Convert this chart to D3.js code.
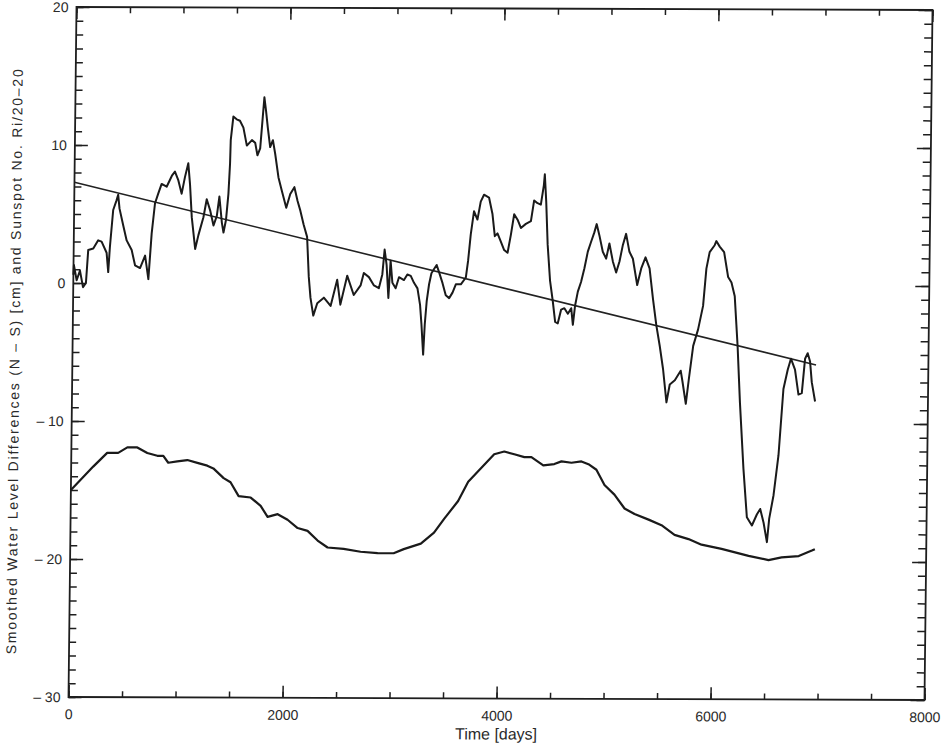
<!DOCTYPE html>
<html>
<head>
<meta charset="utf-8">
<script src="https://cdn.jsdelivr.net/npm/d3@7/dist/d3.min.js"></script>
<style>
	body { margin: 0; background: #fff; }
	svg { display: block; }
	.axis text { font-family: 'Liberation Sans', Arial, sans-serif; font-size: 14px; fill: #2a2a2a; }
	.axis line { stroke: #1e1e1e; stroke-width: 1.5; }
	.axis path { display: none; }
</style>
</head>
<body>
<script>

//* water level differences N - S, smoothed [cm]
var waterDays = [0, 4, 31, 61, 91, 118, 136, 183, 228, 260, 308, 325, 338, 365, 395, 410, 424, 460, 494, 542, 575, 622, 668, 701, 727, 755, 784, 815, 862, 910, 938, 969, 1003, 1032, 1062, 1080, 1100, 1135, 1164, 1209, 1238, 1271, 1304, 1334, 1356, 1382, 1398, 1420, 1440, 1452, 1456, 1478, 1509, 1540, 1573, 1607, 1654, 1685, 1707, 1732, 1753, 1766, 1783, 1801, 1825, 1850, 1873, 1906, 1940, 1982, 2018, 2056, 2087, 2114, 2146, 2180, 2200, 2218, 2246, 2282, 2343, 2407, 2466, 2498, 2559, 2622, 2685, 2714, 2762, 2810, 2856, 2887, 2906, 2926, 2946, 2963, 2982, 3013, 3043, 3090, 3121, 3153, 3184, 3217, 3243, 3258, 3277, 3289, 3305, 3325, 3346, 3370, 3394, 3416, 3450, 3482, 3514, 3545, 3575, 3622, 3668, 3687, 3709, 3737, 3770, 3799, 3829, 3876, 3910, 3934, 3959, 3991, 4023, 4055, 4084, 4113, 4145, 4177, 4223, 4270, 4298, 4330, 4361, 4387, 4395, 4411, 4429, 4455, 4483, 4507, 4532, 4562, 4592, 4625, 4656, 4673, 4692, 4716, 4745, 4775, 4805, 4834, 4864, 4885, 4911, 4945, 4977, 5006, 5040, 5072, 5102, 5132, 5161, 5194, 5227, 5270, 5306, 5345, 5384, 5419, 5453, 5487, 5521, 5556, 5585, 5632, 5686, 5704, 5737, 5763, 5800, 5844, 5888, 5915, 5944, 5990, 6005, 6037, 6079, 6119, 6151, 6183, 6215, 6243, 6283, 6320, 6368, 6413, 6444, 6477, 6510, 6529, 6567, 6609, 6648, 6686, 6715, 6754, 6789, 6820, 6847, 6871, 6894, 6912, 6945];
var waterDiff = [0.6, 1.3, 0.2, 0.9, -0.3, 0, 2.4, 2.5, 3.1, 3.0, 2.2, 0.8, 2.6, 5.3, 6.0, 6.4, 5.4, 4.2, 3.1, 2.4, 1.3, 1.1, 2.0, 0.3, 3.6, 5.8, 6.5, 7.2, 7.0, 7.8, 8.1, 7.5, 6.5, 7.7, 8.7, 7.2, 4.8, 2.5, 3.5, 4.8, 6.1, 5.3, 4.2, 4.9, 6.3, 4.4, 3.7, 4.6, 6.5, 8.7, 10.4, 12.1, 11.9, 11.8, 11.3, 10.0, 10.4, 10.2, 9.3, 9.8, 12.1, 13.5, 12.5, 11.3, 9.9, 10.4, 9.4, 7.7, 6.7, 5.5, 6.5, 7.0, 6.0, 5.3, 4.3, 3.4, 0.5, -1.0, -2.3, -1.4, -1.0, -1.6, 0.3, -1.5, 0.6, -0.8, -0.1, 0.8, 0.5, -0.1, -0.3, 0.7, 2.5, 1.4, -1.0, 1.7, 0.1, -0.3, 0.5, 0.3, 0.7, 0.6, 0.1, -0.3, -1.5, -2.9, -5.1, -2.9, -1.2, 0, 0.8, 1.1, 1.4, 0.9, 0.1, -0.8, -1.0, -0.6, 0, 0, 0.5, 1.7, 3.6, 5.3, 4.7, 6.0, 6.5, 6.3, 5.1, 3.5, 3.7, 3.1, 2.5, 2.3, 3.6, 5.1, 4.7, 4.1, 4.4, 4.6, 6.1, 5.9, 5.8, 7.2, 8.0, 6.0, 2.9, 0.3, -1.2, -2.7, -2.8, -1.8, -1.7, -2.1, -1.7, -2.9, -1.5, -0.5, 0.2, 1.2, 2.4, 3.1, 3.8, 4.4, 3.6, 2.4, 1.9, 3.0, 1.7, 0.9, 1.7, 2.9, 3.7, 2.4, 1.9, 0, 1.2, 2.0, 1.2, -1.0, -2.9, -4.4, -6.1, -8.5, -7.2, -6.9, -6.2, -7.0, -8.6, -6.8, -4.4, -3.2, -1.5, 1.2, 2.4, 2.9, 3.2, 2.8, 2.4, 0.6, 0.2, -0.8, -4.4, -8.5, -13.3, -16.8, -17.4, -16.6, -16.2, -17.2, -18.6, -16.9, -15.2, -12.3, -7.5, -6.1, -5.3, -6.1, -7.9, -7.8, -5.3, -4.9, -5.5, -7.0, -8.4];

//* sunspot number Ri/20 - 20
var sunDays = [0, 206, 335, 438, 523, 616, 710, 804, 860, 907, 991, 1085, 1179, 1272, 1329, 1426, 1491, 1568, 1681, 1775, 1841, 1935, 2028, 2123, 2216, 2311, 2405, 2555, 2714, 2873, 3023, 3117, 3276, 3398, 3491, 3620, 3712, 3832, 3952, 4046, 4140, 4234, 4300, 4412, 4515, 4581, 4675, 4768, 4834, 4909, 4986, 5080, 5176, 5270, 5402, 5523, 5646, 5777, 5899, 6087, 6340, 6527, 6649, 6809, 6931, 6959];
var sunspot = [-15.0, -13.3, -12.3, -12.3, -11.9, -11.9, -12.3, -12.5, -12.5, -13.0, -12.9, -12.8, -13.0, -13.2, -13.4, -14.1, -14.4, -15.4, -15.5, -16.1, -16.9, -16.7, -17.1, -17.7, -17.9, -18.6, -19.1, -19.2, -19.4, -19.5, -19.5, -19.2, -18.8, -18.0, -17.0, -15.7, -14.3, -13.3, -12.3, -12.1, -12.3, -12.5, -12.5, -13.1, -13.0, -12.8, -12.9, -12.8, -13.0, -13.4, -14.5, -15.2, -16.2, -16.6, -17.0, -17.4, -18.1, -18.4, -18.8, -19.1, -19.6, -19.9, -19.7, -19.6, -19.2, -19.1];

//* linear trend of the water level differences
var trendDays = [0, 6950];
var trendVals = [7.3, -5.75];

//* axis ticks
var xMajor = [0, 2000, 4000, 6000, 8000];
var xMinor = d3.range(0, 8001, 500);
var yMajor = [-30, -20, -10, 0, 10, 20];
var yMinor = d3.range(-30, 21, 1);

var W = 856, H = 690;

var svg = d3.select('body').append('svg')
	.attr('width', 950)
	.attr('height', 748);

//* the scanned plot is slightly sheared, follow it
var g = svg.append('g')
	.attr('transform', 'matrix(1,0.0035,-0.0116,1,76.5,7)');

var x = d3.scaleLinear().domain([0, 8000]).range([0, W]);
var y = d3.scaleLinear().domain([-30, 20]).range([H, 0]);

var fmt = function(d){ return d < 0 ? '\u2013 ' + Math.abs(d) : String(d); };

//* AXES
g.append('g').attr('class', 'axis')
	.call( d3.axisLeft(y).tickValues(yMajor).tickSize(-13).tickSizeOuter(0).tickPadding(8).tickFormat(fmt) );
g.append('g').attr('class', 'axis')
	.call( d3.axisLeft(y).tickValues(yMinor).tickSize(-7).tickSizeOuter(0).tickFormat('') );
g.append('g').attr('class', 'axis').attr('transform', 'translate(' + W + ',0)')
	.call( d3.axisRight(y).tickValues(yMajor).tickSize(-14).tickSizeOuter(0).tickFormat('') );
g.append('g').attr('class', 'axis').attr('transform', 'translate(' + W + ',0)')
	.call( d3.axisRight(y).tickValues(yMinor).tickSize(-8).tickSizeOuter(0).tickFormat('') );

g.append('g').attr('class', 'axis').attr('transform', 'translate(0,' + H + ')')
	.call( d3.axisBottom(x).tickValues(xMajor).tickSize(-12).tickSizeOuter(0).tickPadding(12).tickFormat(fmt) );
g.append('g').attr('class', 'axis').attr('transform', 'translate(0,' + H + ')')
	.call( d3.axisBottom(x).tickValues(xMinor).tickSize(-6).tickSizeOuter(0).tickFormat('') );
g.append('g').attr('class', 'axis')
	.call( d3.axisTop(x).tickValues(xMajor).tickSize(-12).tickSizeOuter(0).tickFormat('') );
g.append('g').attr('class', 'axis')
	.call( d3.axisTop(x).tickValues(xMinor).tickSize(-6).tickSizeOuter(0).tickFormat('') );

//* FRAME
g.append('rect')
	.attr('width', W)
	.attr('height', H)
	.attr('fill', 'none')
	.attr('stroke', '#1e1e1e')
	.attr('stroke-width', 1.8);

//* LINES
var line = d3.line()
	.x(function(d){ return x(d[0]); })
	.y(function(d){ return y(d[1]); });

g.append('path')
	.attr('d', line( d3.zip(trendDays, trendVals) ))
	.attr('fill', 'none')
	.attr('stroke', '#222')
	.attr('stroke-width', 1.6);

g.append('path')
	.attr('d', line( d3.zip(sunDays, sunspot) ))
	.attr('fill', 'none')
	.attr('stroke', '#1a1a1a')
	.attr('stroke-width', 2.2)
	.attr('stroke-linejoin', 'round');

g.append('path')
	.attr('d', line( d3.zip(waterDays, waterDiff) ))
	.attr('fill', 'none')
	.attr('stroke', '#1a1a1a')
	.attr('stroke-width', 2)
	.attr('stroke-linejoin', 'round');

//* TITLES
g.append('text')
	.attr('x', W / 2)
	.attr('y', H + 41)
	.attr('font-family', "'Liberation Sans', Arial, sans-serif")
	.attr('font-size', 16)
	.style('text-anchor', 'middle')
	.style('fill', '#2a2a2a')
	.text('Time [days]');

g.append('text')
	.attr('transform', 'translate(-53,' + 355 + ') rotate(-90)')
	.attr('font-family', "'Liberation Sans', Arial, sans-serif")
	.attr('font-size', 14)
	.attr('textLength', 585)
	.attr('lengthAdjust', 'spacing')
	.style('text-anchor', 'middle')
	.style('fill', '#2a2a2a')
	.text('Smoothed Water Level Differences (N \u2013 S) [cm] and Sunspot No. Ri/20\u201320');

</script>
</body>
</html>
